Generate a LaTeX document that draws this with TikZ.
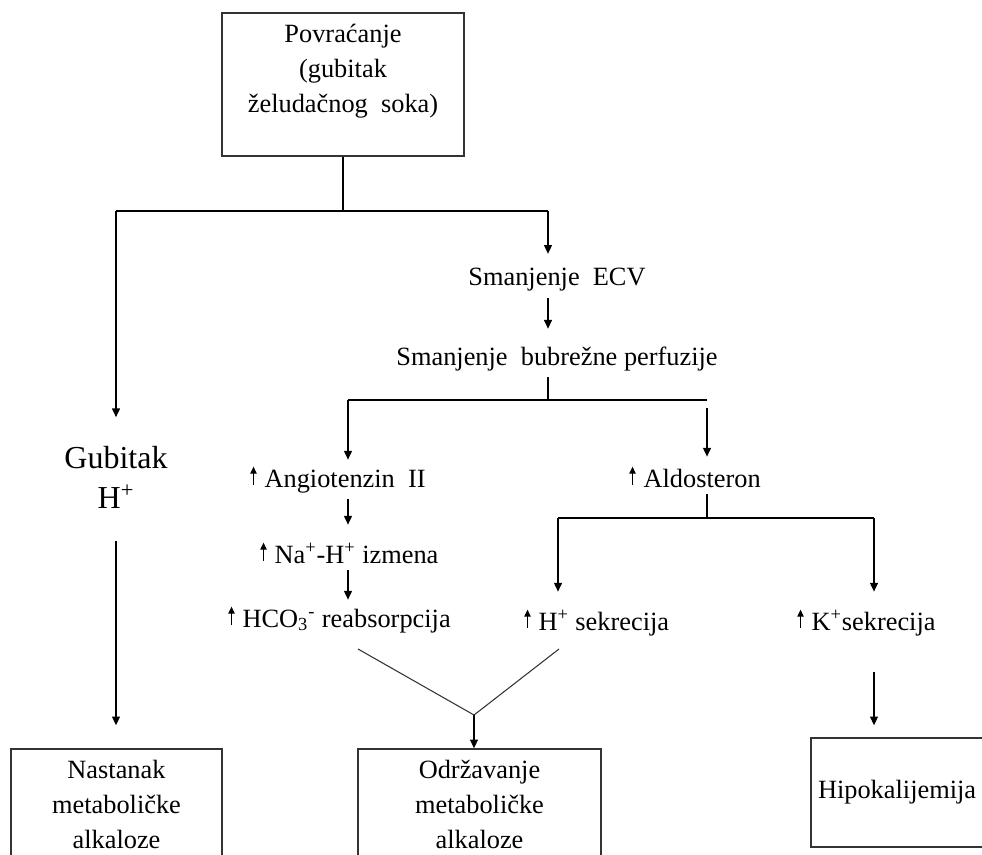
\documentclass[tikz,border=0pt]{standalone}
\usepackage{fontspec}
\setmainfont{Liberation Serif}
\usepackage{tikz}
\usetikzlibrary{shapes, positioning, arrows.meta}

\newcommand{\upar}{\tikz[baseline=0pt]\draw[line width=0.7pt, -{Triangle[length=4pt, width=3.6pt]}] (0,1pt) -- (0,11.6pt);\hspace{4.5pt}}

\begin{document}
\begin{tikzpicture}[x=0.02cm, y=-0.02cm, line width=0.8pt,
        font=\fontsize{15}{19.9}\selectfont,
        txt/.style={inner xsep=0pt, inner ysep=0.12cm},
        box/.style={draw=black!80, align=center},
        arr/.style={-{Triangle[length=5pt, width=4.5pt]}}]
        \path[use as bounding box, clip] (0, 0) rectangle (982, 854);

        \node[box, minimum width=4.84cm, minimum height=2.86cm] (vomit) at (343, 84.5) {Povraćanje\\(gubitak\\želudačnog\ \ soka)\rule[-0.66cm]{0pt}{0pt}};
        \node[align=center, inner sep=0pt, font=\fontsize{18.2}{22.8}\selectfont] (gubitak) at (116, 477) {Gubitak\\H\textsuperscript{+}};
        \node[txt, anchor=base] (ecv) at (557, 286) {Smanjenje\ \ ECV};
        \node[txt, anchor=base] (bubrezne) at (557, 365) {Smanjenje\ \ bubrežne perfuzije};
        \node[txt, anchor=base west] (angio) at (250, 487) {\upar Angiotenzin\ \ II};
        \node[txt, anchor=base west] (nah) at (260, 563) {\upar Na\textsuperscript{+}-H\textsuperscript{+} izmena};
        \node[txt, anchor=base west] (hco) at (228, 627) {\upar HCO\textsubscript{3}\textsuperscript{-} reabsorpcija};
        \node[txt, anchor=base west] (aldo) at (629, 487) {\upar Aldosteron};
        \node[txt, anchor=base west] (hsek) at (524, 630) {\upar H\textsuperscript{+} sekrecija};
        \node[txt, anchor=base west] (ksek) at (797, 630) {\upar K\textsuperscript{+}sekrecija};
        \node[box, minimum width=4.22cm, minimum height=2.22cm] (nastanak) at (116.5, 804.5) {Nastanak\\metaboličke\\alkaloze};
        \node[box, minimum width=4.86cm, minimum height=2.22cm] (odrz) at (479.5, 804.5) {Održavanje\\metaboličke\\alkaloze};
        \node[box, text width=3.72cm, inner xsep=0.14cm, align=left, minimum height=2.18cm] (hipo) at (911, 792.5) {Hipokalijemija};

        \coordinate (fork1) at (343, 211);
        \coordinate (fork1l) at (116, 211);
        \coordinate (fork1r) at (548, 211);
        \coordinate (fork2) at (548, 400);
        \coordinate (fork2l) at (348, 400);
        \coordinate (fork2r) at (707, 400);
        \coordinate (aldoin) at (707, 408);
        \coordinate (fork3) at (707, 518);
        \coordinate (fork3l) at (558, 518);
        \coordinate (fork3r) at (874, 518);
        \coordinate (vl) at (358, 649);
        \coordinate (vr) at (559, 649);
        \coordinate (vjoin) at (474, 715);

        \draw (vomit) to (fork1)
            (fork1l) to (fork1r)
            (bubrezne.south -| fork2) to (fork2)
            (fork2l) to (fork2r)
            (aldo.south -| fork3) to (fork3)
            (fork3l) to (fork3r);
        \draw[arr, shorten >=0.56cm] (fork1l) to (gubitak);
        \draw[arr, shorten >=0.16cm] (fork1r) to (fork1r |- ecv.north);
        \draw[arr, shorten >=0.22cm] (ecv.south -| fork1r) to (bubrezne.north -| fork1r);
        \draw[arr] (fork2l) to (fork2l |- angio.north);
        \draw[arr, shorten >=0.06cm] (aldoin) to (aldoin |- aldo.north);
        \draw[arr, shorten >=0.22cm] (angio.south -| fork2l) to (nah.north -| fork2l);
        \draw[arr] (nah.south -| fork2l) to (hco.north -| fork2l);
        \draw[arr, shorten >=0.22cm] (fork3l) to (fork3l |- hsek.north);
        \draw[arr, shorten >=0.22cm] (fork3r) to (fork3r |- ksek.north);
        \draw[line width=0.6pt, black!80] (vl) to (vjoin) to (vr);
        \draw[arr] (vjoin) to (vjoin |- odrz.north);
        \draw[arr, shorten <=0.64cm, shorten >=0.46cm] (gubitak.south) to (gubitak.south |- nastanak.north);
        \draw[arr, shorten <=0.6cm, shorten >=0.24cm] (ksek.south -| fork3r) to (hipo.north -| fork3r);
    \end{tikzpicture}
\end{document}
